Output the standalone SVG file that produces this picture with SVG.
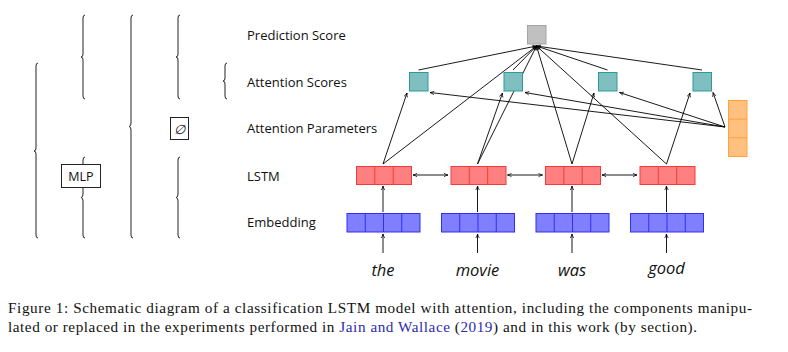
<svg xmlns="http://www.w3.org/2000/svg" width="788" height="352" viewBox="0 0 788 352">
<defs>
<marker id="ah" viewBox="0 0 8 8" refX="7.5" refY="4" markerWidth="5" markerHeight="5" markerUnits="userSpaceOnUse" orient="auto-start-reverse">
<path d="M1,1.2 Q4,3.2 7.5,4 Q4,4.8 1,6.8" fill="none" stroke="#000" stroke-width="1.2"/>
</marker>
<style>
.lbl{font-family:"Open Sans","Liberation Sans",sans-serif;font-size:13px;fill:#111}
.word{font-family:"Open Sans","Liberation Sans",sans-serif;font-size:16.5px;font-style:italic;fill:#111}
.cap{font-family:"Liberation Serif","Times New Roman",serif;font-size:15.2px;fill:#111}
.blue{fill:#2b2bb0}
.br{fill:none;stroke:#222;stroke-width:1}
.ar{fill:none;stroke:#000;stroke-width:0.9;marker-end:url(#ah)}
.dar{fill:none;stroke:#000;stroke-width:0.9;marker-end:url(#ah);marker-start:url(#ah)}
.red{fill:#ff8080;stroke:#f43b3b;stroke-width:1}
.bl{fill:#8080ff;stroke:#2f2ff5;stroke-width:1}
.tl{fill:#80bfbf;stroke:#2b9a9a;stroke-width:1}
.or{fill:#ffc080;stroke:#ffa33a;stroke-width:1}
.gr{fill:#c0c0c0;stroke:#a4a4a4;stroke-width:1}
.box{fill:#fff;stroke:#222;stroke-width:1}
</style>
</defs>
<rect width="788" height="352" fill="#fff"/>

<g id="braces">
<path class="br" d="M38,63 Q36,63 36,66 L36,148 Q36,151 34,151 Q36,151 36,154 L36,235 Q36,238 38,238"/>
<path class="br" d="M85,15 Q83,15 83,18 L83,54 Q83,57 81,57 Q83,57 83,60 L83,96 Q83,99 85,99"/>
<path class="br" d="M85,157 Q83,157 83,160 L83,194 Q83,197.5 81,197.5 Q83,197.5 83,201 L83,235 Q83,238 85,238"/>
<path class="br" d="M133,15 Q131,15 131,18 L131,123 Q131,126.5 129,126.5 Q131,126.5 131,130 L131,235 Q131,238 133,238"/>
<path class="br" d="M180,15 Q178,15 178,18 L178,54 Q178,57 176,57 Q178,57 178,60 L178,96 Q178,99 180,99"/>
<path class="br" d="M180,157 Q178,157 178,160 L178,194 Q178,197.5 176,197.5 Q178,197.5 178,201 L178,235 Q178,238 180,238"/>
<path class="br" d="M227,63 Q225,63 225,66 L225,78 Q225,81 223,81 Q225,81 225,84 L225,96 Q225,99 227,99"/>
</g>
<g id="mlp">
<rect class="box" x="61.5" y="164.5" width="39" height="23"/>
<text class="lbl" x="81" y="181" text-anchor="middle" style="font-size:12.5px">MLP</text>
</g>
<g id="emptyset">
<rect class="box" x="170.5" y="117.5" width="18" height="22"/>
<text class="lbl" x="179.5" y="133.5" text-anchor="middle" style="font-size:13px;font-style:italic">∅</text>
</g>

<g id="labels">
<text class="lbl" x="247" y="40">Prediction Score</text>
<text class="lbl" x="247" y="86.7">Attention Scores</text>
<text class="lbl" x="247" y="133">Attention Parameters</text>
<text class="lbl" x="247" y="180.7">LSTM</text>
<text class="lbl" x="247" y="227">Embedding</text>
</g>

<g id="connectors">
<line class="ar" x1="383" y1="253" x2="383" y2="234"/>
<line class="ar" x1="477.5" y1="253" x2="477.5" y2="234"/>
<line class="ar" x1="572" y1="253" x2="572" y2="234"/>
<line class="ar" x1="666.5" y1="253" x2="666.5" y2="234"/>
<line class="ar" x1="383" y1="212" x2="383" y2="186"/>
<line class="ar" x1="477.5" y1="212" x2="477.5" y2="186"/>
<line class="ar" x1="572" y1="212" x2="572" y2="186"/>
<line class="ar" x1="666.5" y1="212" x2="666.5" y2="186"/>
<line class="dar" x1="413" y1="175" x2="448" y2="175"/>
<line class="dar" x1="507.5" y1="175" x2="542.5" y2="175"/>
<line class="dar" x1="602" y1="175" x2="637" y2="175"/>
<line class="ar" x1="383" y1="164" x2="407" y2="93"/>
<line class="ar" x1="477.5" y1="164" x2="502.5" y2="93"/>
<line class="ar" x1="572" y1="164" x2="594" y2="93"/>
<line class="ar" x1="666.5" y1="164" x2="690" y2="93"/>
<line class="ar" x1="383" y1="164" x2="536.5" y2="46"/>
<line class="ar" x1="477.5" y1="164" x2="536.5" y2="46"/>
<line class="ar" x1="572" y1="164" x2="536.5" y2="46"/>
<line class="ar" x1="666.5" y1="164" x2="536.5" y2="46"/>
<line class="ar" x1="418.5" y1="70" x2="536.5" y2="46"/>
<line class="ar" x1="513" y1="70" x2="536.5" y2="46"/>
<line class="ar" x1="607.5" y1="70" x2="536.5" y2="46"/>
<line class="ar" x1="702" y1="70" x2="536.5" y2="46"/>
<line class="ar" x1="725" y1="127" x2="430" y2="92.5"/>
<line class="ar" x1="725" y1="127" x2="525" y2="92.5"/>
<line class="ar" x1="725" y1="127" x2="619.5" y2="92.5"/>
<line class="ar" x1="725" y1="127" x2="713" y2="92.5"/>
</g>

<g id="prediction">
<rect class="gr" x="527.5" y="25.5" width="18.5" height="18.5"/>
</g>

<g id="att1"><rect class="tl" x="409.5" y="72.5" width="18.5" height="18.5"/></g>
<g id="att2"><rect class="tl" x="504" y="72.5" width="18.5" height="18.5"/></g>
<g id="att3"><rect class="tl" x="598.5" y="72.5" width="18.5" height="18.5"/></g>
<g id="att4"><rect class="tl" x="693" y="72.5" width="18.5" height="18.5"/></g>

<g id="attparams">
<rect class="or" x="728.5" y="100.5" width="18.5" height="56"/>
<line class="or" x1="728.5" y1="119.2" x2="747" y2="119.2"/>
<line class="or" x1="728.5" y1="137.8" x2="747" y2="137.8"/>
</g>

<g id="lstm1">
<rect class="red" x="356.5" y="166.5" width="55" height="18"/>
<line class="red" x1="374.8" y1="166.5" x2="374.8" y2="184.5"/><line class="red" x1="393.2" y1="166.5" x2="393.2" y2="184.5"/>
</g>
<g id="lstm2">
<rect class="red" x="451" y="166.5" width="55" height="18"/>
<line class="red" x1="469.3" y1="166.5" x2="469.3" y2="184.5"/><line class="red" x1="487.7" y1="166.5" x2="487.7" y2="184.5"/>
</g>
<g id="lstm3">
<rect class="red" x="545.5" y="166.5" width="55" height="18"/>
<line class="red" x1="563.8" y1="166.5" x2="563.8" y2="184.5"/><line class="red" x1="582.2" y1="166.5" x2="582.2" y2="184.5"/>
</g>
<g id="lstm4">
<rect class="red" x="640" y="166.5" width="55" height="18"/>
<line class="red" x1="658.3" y1="166.5" x2="658.3" y2="184.5"/><line class="red" x1="676.7" y1="166.5" x2="676.7" y2="184.5"/>
</g>

<g id="emb1">
<rect class="bl" x="347" y="213.5" width="73" height="18.5"/>
<line class="bl" x1="365.25" y1="213.5" x2="365.25" y2="232"/><line class="bl" x1="383.5" y1="213.5" x2="383.5" y2="232"/><line class="bl" x1="401.75" y1="213.5" x2="401.75" y2="232"/>
</g>
<g id="emb2">
<rect class="bl" x="441.5" y="213.5" width="73" height="18.5"/>
<line class="bl" x1="459.75" y1="213.5" x2="459.75" y2="232"/><line class="bl" x1="478" y1="213.5" x2="478" y2="232"/><line class="bl" x1="496.25" y1="213.5" x2="496.25" y2="232"/>
</g>
<g id="emb3">
<rect class="bl" x="536" y="213.5" width="73" height="18.5"/>
<line class="bl" x1="554.25" y1="213.5" x2="554.25" y2="232"/><line class="bl" x1="572.5" y1="213.5" x2="572.5" y2="232"/><line class="bl" x1="590.75" y1="213.5" x2="590.75" y2="232"/>
</g>
<g id="emb4">
<rect class="bl" x="630.5" y="213.5" width="73" height="18.5"/>
<line class="bl" x1="648.75" y1="213.5" x2="648.75" y2="232"/><line class="bl" x1="667" y1="213.5" x2="667" y2="232"/><line class="bl" x1="685.25" y1="213.5" x2="685.25" y2="232"/>
</g>

<g id="words">
<text class="word" x="383" y="276" text-anchor="middle">the</text>
<text class="word" x="477.5" y="276" text-anchor="middle">movie</text>
<text class="word" x="572" y="276" text-anchor="middle">was</text>
<text class="word" x="666.5" y="274" text-anchor="middle">good</text>
</g>

<g id="caption">
<text class="cap" x="8" y="313" textLength="744" lengthAdjust="spacing">Figure 1:  Schematic diagram of a classification LSTM model with attention, including the components manipu-</text>
<text class="cap" x="8" y="332" textLength="689" lengthAdjust="spacing">lated or replaced in the experiments performed in <tspan class="blue">Jain and Wallace</tspan> (<tspan class="blue">2019</tspan>) and in this work (by section).</text>
</g>
</svg>
